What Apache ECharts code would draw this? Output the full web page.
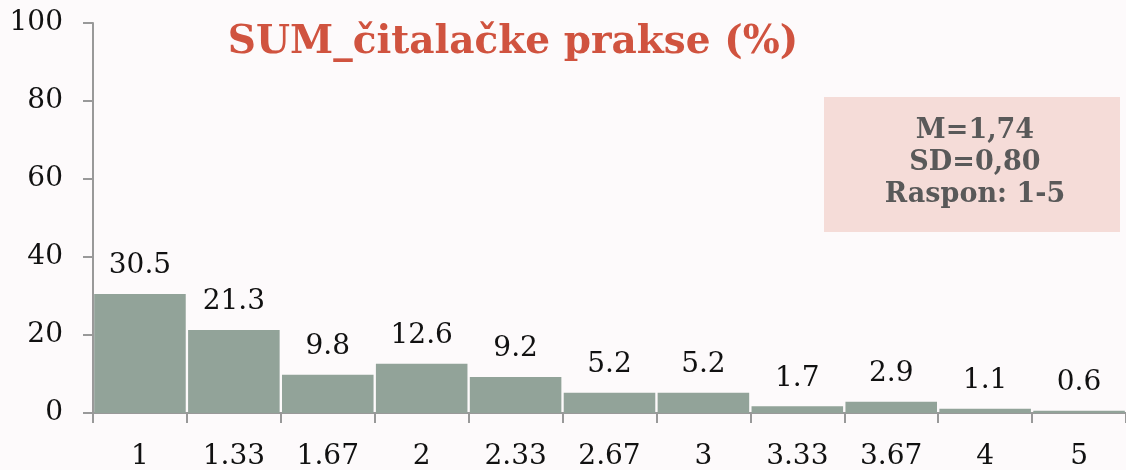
<!DOCTYPE html>
<html>
<head>
<meta charset="utf-8">
<script src="https://cdn.jsdelivr.net/npm/echarts@6/dist/echarts.min.js"></script>
<style>
  html, body { margin: 0; padding: 0; background: #fdfafb; }
  #chart { width: 1126px; height: 470px; }
</style>
</head>
<body>
<div id="chart"></div>
<script>
var categories = ["1", "1.33", "1.67", "2", "2.33", "2.67", "3", "3.33", "3.67", "4", "5"];
var percents = [30.5, 21.3, 9.8, 12.6, 9.2, 5.2, 5.2, 1.7, 2.9, 1.1, 0.6];
var statsLines = ["M=1,74", "SD=0,80", "Raspon: 1-5"];
var titleText = "SUM_čitalačke prakse (%)";

var font = "DejaVu Serif";
var myChart = echarts.init(document.getElementById("chart"));
var option = {
  backgroundColor: "#fdfafb",
  animation: false,
  title: {
    text: titleText,
    left: 508,
    top: 18,
    textAlign: "center",
    textStyle: { color: "#d0533f", fontFamily: font, fontWeight: "bold", fontSize: 39 }
  },
  grid: { left: 93, right: 0, top: 23, bottom: 57, outerBoundsMode: "none", containLabel: false },
  xAxis: {
    type: "category",
    data: categories,
    axisLine: { lineStyle: { color: "#999", width: 2 } },
    axisTick: { show: true, length: 10, lineStyle: { color: "#999", width: 2 } },
    axisLabel: { color: "#111", fontFamily: font, fontSize: 28, margin: 30 }
  },
  yAxis: {
    type: "value",
    min: 0,
    max: 100,
    interval: 20,
    axisLine: { show: true, lineStyle: { color: "#999", width: 2 } },
    axisTick: { show: true, length: 10, lineStyle: { color: "#999", width: 2 } },
    splitLine: { show: false },
    axisLabel: { color: "#111", fontFamily: font, fontSize: 28, margin: 30 }
  },
  graphic: [
    {
      type: "rect",
      left: 824,
      top: 97,
      shape: { width: 296, height: 135 },
      style: { fill: "#f5dcd8" }
    },
    {
      type: "text",
      x: 975,
      y: 115,
      style: {
        text: statsLines.join("\n"),
        fill: "#595959",
        font: "bold 27px '" + font + "'",
        align: "center",
        lineHeight: 32
      }
    }
  ],
  series: [
    {
      type: "bar",
      data: percents,
      barCategoryGap: "2.5%",
      itemStyle: { color: "#92a399" },
      label: {
        show: true,
        position: "top",
        distance: 14,
        color: "#111",
        fontFamily: font,
        fontSize: 28
      }
    }
  ]
};
myChart.setOption(option);
</script>
</body>
</html>
